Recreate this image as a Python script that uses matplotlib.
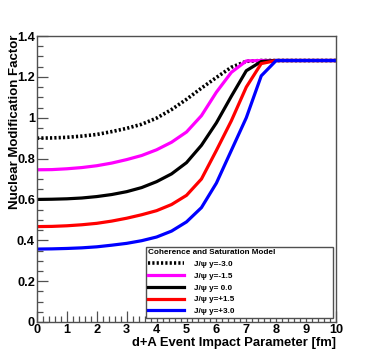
import matplotlib
matplotlib.use("Agg")
import matplotlib.pyplot as plt
from matplotlib.ticker import MultipleLocator

plt.rcParams['font.family'] = ['Liberation Sans', 'DejaVu Sans']

b = [0.0, 0.5, 1.0, 1.5, 2.0, 2.5, 3.0, 3.5, 4.0, 4.5, 5.0, 5.5, 6.0, 6.5, 7.0,
     7.5, 8.0, 8.5, 9.0, 9.5, 10.0]

r_m30 = [0.900, 0.901, 0.904, 0.910, 0.918, 0.932, 0.948, 0.968, 0.998, 1.040,
         1.090, 1.145, 1.197, 1.247, 1.276, 1.280, 1.280, 1.280, 1.280, 1.280, 1.280]
r_m15 = [0.745, 0.746, 0.750, 0.756, 0.765, 0.778, 0.795, 0.815, 0.843, 0.880,
         0.930, 1.010, 1.125, 1.222, 1.278, 1.280, 1.280, 1.280, 1.280, 1.280, 1.280]
r_00 = [0.600, 0.601, 0.603, 0.607, 0.614, 0.624, 0.638, 0.658, 0.687, 0.725,
        0.780, 0.865, 0.975, 1.105, 1.230, 1.275, 1.280, 1.280, 1.280, 1.280, 1.280]
r_p15 = [0.467, 0.468, 0.471, 0.476, 0.483, 0.494, 0.508, 0.525, 0.545, 0.575,
         0.620, 0.700, 0.840, 0.985, 1.150, 1.265, 1.280, 1.280, 1.280, 1.280, 1.280]
r_p30 = [0.357, 0.358, 0.360, 0.363, 0.368, 0.376, 0.385, 0.398, 0.416, 0.445,
         0.490, 0.560, 0.680, 0.840, 1.000, 1.205, 1.280, 1.280, 1.280, 1.280, 1.280]

labels = ["J/\u03c8 y=-3.0", "J/\u03c8 y=-1.5", "J/\u03c8 y= 0.0",
          "J/\u03c8 y=+1.5", "J/\u03c8 y=+3.0"]
legend_title = "Coherence and Saturation Model"
yticks = [0, 0.2, 0.4, 0.6, 0.8, 1.0, 1.2, 1.4]
yticklabels = ['0', '0.2', '0.4', '0.6', '0.8', '1', '1.2', '1.4']

fig = plt.figure(figsize=(3.74, 3.59), dpi=100)
W, H = 374, 359
ax = fig.add_axes([37 / W, 37 / H, 299 / W, 286 / H])

lw = 2.3
ax.plot(b, r_m30, color='black', lw=2.6, linestyle=(0, (0.6, 0.6)), label=labels[0])
ax.plot(b, r_m15, color='#ff00ff', lw=lw, label=labels[1])
ax.plot(b, r_00, color='black', lw=lw, label=labels[2])
ax.plot(b, r_p15, color='#ff0000', lw=lw, label=labels[3])
ax.plot(b, r_p30, color='#0000ff', lw=lw, label=labels[4])

ax.set_xlim(0, 10)
ax.set_ylim(0, 1.4)
ax.xaxis.set_major_locator(MultipleLocator(1))
ax.xaxis.set_minor_locator(MultipleLocator(0.2))
ax.set_yticks(yticks)
ax.set_yticklabels(yticklabels)
ax.yaxis.set_minor_locator(MultipleLocator(0.05))

fc = '#505050'
for s in ax.spines.values():
    s.set_color(fc)
    s.set_linewidth(1.0)
ax.tick_params(which='both', direction='in', top=False, right=False, color=fc,
               width=0.9, labelsize=9.2)
ax.tick_params(which='major', length=8, pad=1.5)
ax.tick_params(which='minor', length=4)
for t in ax.get_xticklabels() + ax.get_yticklabels():
    t.set_fontweight('bold')

ax.set_xlabel("d+A Event Impact Parameter [fm]", fontsize=9.4, fontweight='bold',
              loc='right')
ax.xaxis.set_label_coords(1.0, -0.072)
ax.xaxis.label.set_va('center')
ax.set_ylabel("Nuclear Modification Factor", fontsize=9.5, fontweight='bold',
              loc='top')
ax.yaxis.set_label_coords(-0.075, 1.005)
ax.yaxis.label.set_va('center')

leg = ax.legend(loc='lower left', bbox_to_anchor=(0.3645, 0.015, 0.625, 0.245),
                mode='expand', title=legend_title, alignment='left',
                fontsize=5.9, title_fontproperties={'weight': 'bold', 'size': 5.9},
                handlelength=4.4, handletextpad=1.1, labelspacing=0.5,
                borderpad=0.3, borderaxespad=0, fancybox=False, framealpha=1,
                edgecolor=fc)
leg.get_frame().set_linewidth(1.0)
for t in leg.get_texts():
    t.set_fontweight('bold')

fig.savefig("out.png", dpi=100)
